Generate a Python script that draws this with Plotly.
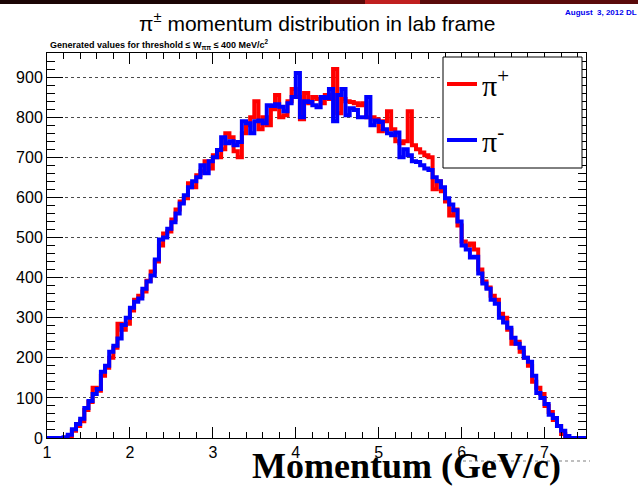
import numpy as np
import plotly.graph_objects as go

# ---- data ----
BIN_LO = 1.0
BIN_W = 0.05
pi_plus = [0, 0, 0, 0, 0,
           5, 18, 30, 42, 70,
           90, 125, 118, 155, 175, 200, 225, 285, 270, 285,
           318, 345, 355, 365, 392, 415, 440, 480, 510, 515,
           545, 570, 590, 598, 635, 625, 655, 665, 690, 672,
           705, 700, 720, 760, 750, 715, 700, 760, 780, 800,
           840, 770, 800, 780, 820, 855, 800, 805, 840, 870,
           850, 795, 860, 835, 850, 845, 835, 855, 845, 920,
           810, 845, 840, 838, 835, 830, 835, 800, 800, 795,
           765, 790, 815, 770, 740, 735, 740, 815, 730, 720,
           712, 705, 700, 620, 640, 615, 590, 555, 570, 530,
           490, 480, 485, 470, 420, 390, 375, 355, 345, 310,
           300, 270, 235, 240, 215, 200, 180, 140, 125, 110,
           80, 65, 45, 30, 10, 0, 0, 0, 0, 0]
pi_minus = [0, 0, 0, 0,
            2, 8, 22, 35, 48, 75, 92, 110, 122, 165,
            180, 215, 230, 248, 282, 300, 325, 340, 348, 372,
            390, 405, 445, 495, 500, 522, 538, 560, 585, 605,
            625, 640, 650, 680, 660, 690, 700, 718, 750, 735,
            740, 730, 738, 790, 785, 760, 790, 792, 785, 830,
            828, 832, 826, 815, 835, 850, 910, 800, 840, 838,
            830, 825, 850, 848, 870, 790, 855, 870, 805, 822,
            818, 800, 800, 850, 780, 792, 788, 770, 760, 755,
            762, 700, 720, 705, 690, 688, 680, 672, 668, 650,
            640, 625, 598, 582, 568, 540, 480, 470, 450, 452,
            410, 385, 372, 345, 335, 300, 288, 275, 250, 235,
            225, 200, 190, 155, 112, 100, 85, 58, 50, 30,
            18, 5, 0, 0, 0, 0]
x_ticks = [1, 2, 3, 4, 5, 6, 7]
y_ticks = [0, 100, 200, 300, 400, 500, 600, 700, 800, 900]

edges = BIN_LO + BIN_W * np.arange(len(pi_plus) + 1)

# ---- geometry helpers (pixel -> paper) ----
W, H = 638, 487
L, R, T, B = 47, 586, 53, 438
def px(x):
    return (x - L) / (R - L)
def py(y):
    return (B - y) / (B - T)

fig = go.Figure()
fig.add_trace(go.Scatter(x=edges, y=pi_plus + [pi_plus[-1]], mode="lines",
                         line=dict(color="#ff0000", width=4, shape="hv"),
                         name="π<sup>+</sup>", legendgroup="a"))
fig.add_trace(go.Scatter(x=edges, y=pi_minus + [pi_minus[-1]], mode="lines",
                         line=dict(color="#0000ff", width=4, shape="hv"),
                         name="π<sup>-</sup>", legendgroup="b"))

axis_font = dict(family="Liberation Sans, Arial, sans-serif", size=16, color="black")
fig.update_xaxes(range=[1, 7.5], tickvals=x_ticks, ticks="inside", ticklen=11,
                 tickcolor="black", showline=True, linecolor="black", linewidth=1,
                 mirror="ticks", showgrid=False, zeroline=False, tickfont=axis_font,
                 automargin=False,
                 minor=dict(dtick=0.2, ticks="inside", ticklen=6, tickcolor="black", showgrid=False))
fig.update_yaxes(range=[0, 960], tickvals=y_ticks, ticks="inside", ticklen=16,
                 tickcolor="black", showline=True, linecolor="black", linewidth=1,
                 mirror="ticks", showgrid=True, gridcolor="rgba(0,0,0,0.7)", griddash="dot",
                 gridwidth=1, zeroline=False, tickfont=axis_font, automargin=False,
                 minor=dict(dtick=20, ticks="inside", ticklen=8, tickcolor="black", showgrid=False))

shapes = [
    # top banner strip
    dict(type="rect", xref="paper", yref="paper", x0=px(0), x1=px(W), y0=py(4), y1=py(0),
         fillcolor="#1a0505", line=dict(width=0), layer="above"),
    dict(type="rect", xref="paper", yref="paper", x0=px(330), x1=px(638), y0=py(4), y1=py(0),
         fillcolor="#5a0a0a", line=dict(width=0), layer="above"),
    dict(type="rect", xref="paper", yref="paper", x0=px(365), x1=px(420), y0=py(4), y1=py(0),
         fillcolor="#c02020", line=dict(width=0), layer="above"),
    # legend box
    dict(type="rect", xref="paper", yref="paper", x0=px(443), x1=px(582), y0=py(168), y1=py(57),
         fillcolor="white", line=dict(color="black", width=1), layer="above"),
    # faint dotted remnant behind axis title
    dict(type="line", xref="paper", yref="paper", x0=px(457), x1=px(590), y0=py(461), y1=py(461),
         line=dict(color="rgba(0,0,0,0.5)", width=1, dash="dot"), layer="above"),
]

annotations = [
    dict(text="π<sup>±</sup> momentum distribution in lab frame", x=px(317), y=py(22),
         xref="paper", yref="paper", xanchor="center", yanchor="middle", showarrow=False,
         font=dict(family="Liberation Sans, Arial, sans-serif", size=21, color="black")),
    dict(text="<b>August  3, 2012 DL</b>", x=px(563), y=py(12), xref="paper", yref="paper",
         xanchor="left", yanchor="middle", showarrow=False,
         font=dict(family="Liberation Sans, Arial, sans-serif", size=8, color="#0000ee")),
    dict(text="<b>Generated values for threshold ≤ W<sub>ππ</sub> ≤ 400 MeV/c<sup>2</sup></b>",
         x=px(48), y=py(44), xref="paper", yref="paper", xanchor="left", yanchor="middle",
         showarrow=False, font=dict(family="Liberation Sans, Arial, sans-serif", size=9, color="black")),
    dict(text="<b>Momentum (GeV/c)</b>", x=px(563), y=py(466), xref="paper", yref="paper",
         xanchor="right", yanchor="middle", showarrow=False,
         font=dict(family="Liberation Serif, Times New Roman, serif", size=36, color="black")),
]

fig.update_layout(
    width=W, height=H, margin=dict(l=L, r=W - R, t=T, b=H - B, autoexpand=False),
    paper_bgcolor="white", plot_bgcolor="white",
    showlegend=True,
    legend=dict(x=px(442), y=py(58), xanchor="left", yanchor="top",
                bgcolor="rgba(0,0,0,0)", borderwidth=0, tracegroupgap=14,
                font=dict(family="Liberation Serif, Times New Roman, serif", size=30, color="black")),
    shapes=shapes, annotations=annotations,
)

fig.write_html("out.html", config={"displayModeBar": False},
               post_script="document.body.style.margin='0';")
